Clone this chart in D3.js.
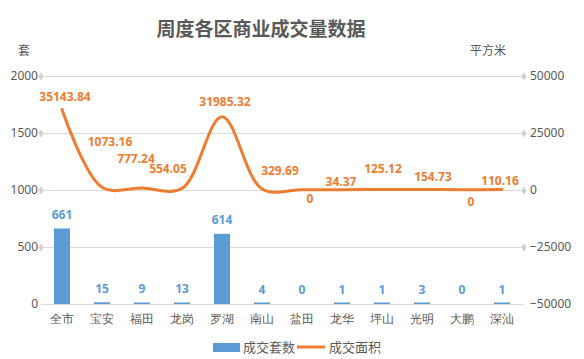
<!DOCTYPE html>
<html><head><meta charset="utf-8">
<script src="https://cdn.jsdelivr.net/npm/d3@7"></script>
<style>body{margin:0;background:#fff;} svg{display:block;font-family:"Noto Sans CJK SC","Noto Sans",sans-serif;}</style>
</head><body>
<svg id="chart" width="584" height="359"></svg>
<script>
const categories = ["全市","宝安","福田","龙岗","罗湖","南山","盐田","龙华","坪山","光明","大鹏","深汕"];
const units = [661,15,9,13,614,4,0,1,1,3,0,1];
const areas = [35143.84,1073.16,777.24,554.05,31985.32,329.69,0,34.37,125.12,154.73,0,110.16];
const leftTicks = [0,500,1000,1500,2000];
const rightTicks = [-50000,-25000,0,25000,50000];
// layout-only: label nudges (px) for the area labels, relative to each point
const areaLabelNudge = [[3,-12],[8,-45],[-6,-28],[-14,-19],[3,-14],[18,-17],[8,10],[-1,-7],[1,-20],[11,-12],[9,13],[-2,-8]];

const svg = d3.select("#chart");
const x0=42,x1=522,yTop=75.5,yBot=304;
const blue="#5B9BD5",orange="#ED7D31",txt="#595959",grid="#d9d9d9";

const x = d3.scaleBand().domain(categories).range([x0,x1]);
const yL = d3.scaleLinear().domain([0,2000]).range([yBot,yTop]);
const yR = d3.scaleLinear().domain([-50000,50000]).range([yBot,yTop]);

// title
svg.append("text").attr("x",261).attr("y",36).attr("text-anchor","middle")
  .attr("font-size",19).attr("font-weight","bold").attr("fill",txt).text("周度各区商业成交量数据");
svg.append("text").attr("x",24).attr("y",55).attr("text-anchor","middle").attr("font-size",12).attr("fill",txt).text("套");
svg.append("text").attr("x",488).attr("y",55).attr("text-anchor","middle").attr("font-size",12).attr("fill",txt).text("平方米");

// gridlines
leftTicks.forEach(t=>{
  const y=Math.round(yL(t))+0.5;
  svg.append("line").attr("x1",41).attr("x2",524).attr("y1",y).attr("y2",y).attr("stroke",grid).attr("stroke-width",1);
  if(t!==0){
    [41,524].forEach(cx=>svg.append("path").attr("d",d3.symbol(d3.symbolDiamond,22)()).attr("transform",`translate(${cx},${y})`).attr("fill","#d0d0d0"));
  }
});

// left axis
const gL = svg.append("g").attr("transform",`translate(38,0)`)
  .call(d3.axisLeft(yL).tickValues(leftTicks).tickSize(0).tickPadding(0).tickFormat(d3.format("d")));
gL.select(".domain").remove();
gL.selectAll("text").attr("font-size",12).attr("fill",txt).attr("font-family","'Noto Sans','Noto Sans CJK SC',sans-serif");

// right axis
const gR = svg.append("g").attr("transform",`translate(530,0)`)
  .call(d3.axisRight(yR).tickValues(rightTicks).tickSize(0).tickPadding(0).tickFormat(d3.format("d")));
gR.select(".domain").remove();
gR.selectAll("text").attr("font-size",12).attr("fill",txt).attr("font-family","'Noto Sans','Noto Sans CJK SC',sans-serif");

// x axis labels
const gX = svg.append("g").attr("transform",`translate(0,${yBot})`)
  .call(d3.axisBottom(x).tickSize(0).tickPadding(10));
gX.select(".domain").remove();
gX.selectAll("text").attr("font-size",12).attr("fill",txt);

// bars
const bw=16;
svg.selectAll("rect.bar").data(categories).enter().append("rect")
  .attr("x",d=>x(d)+x.bandwidth()/2-bw/2)
  .attr("y",(d,i)=>Math.min(yL(units[i]),yBot-(units[i]>0?1.5:0)))
  .attr("width",bw)
  .attr("height",(d,i)=>Math.max(yBot-yL(units[i]),units[i]>0?1.5:0))
  .attr("fill",blue);
svg.selectAll("text.blab").data(categories).enter().append("text")
  .attr("x",d=>x(d)+x.bandwidth()/2)
  .attr("y",(d,i)=>yL(units[i])-13)
  .attr("text-anchor","middle").attr("dominant-baseline","middle")
  .attr("font-size",12).attr("font-weight","bold").attr("fill",blue)
  .attr("font-family","'Noto Sans',sans-serif")
  .text((d,i)=>units[i]);

// line
const line = d3.line().x((d,i)=>x(categories[i])+x.bandwidth()/2).y(d=>yR(d)).curve(d3.curveCatmullRom.alpha(0.5));
svg.append("path").attr("d",line(areas)).attr("fill","none").attr("stroke",orange).attr("stroke-width",3).attr("stroke-linecap","round");
svg.selectAll("text.alab").data(categories).enter().append("text")
  .attr("x",(d,i)=>x(d)+x.bandwidth()/2+areaLabelNudge[i][0])
  .attr("y",(d,i)=>yR(areas[i])+areaLabelNudge[i][1])
  .attr("text-anchor","middle").attr("dominant-baseline","middle")
  .attr("font-size",12).attr("font-weight","bold").attr("fill",orange)
  .attr("font-family","'Noto Sans',sans-serif")
  .text((d,i)=>d3.format(".2f")(areas[i]).replace(/\.00$/,""));

// legend
svg.append("rect").attr("x",213).attr("y",343).attr("width",27).attr("height",9).attr("fill",blue);
svg.append("text").attr("x",243).attr("y",348).attr("dominant-baseline","middle").attr("font-size",13).attr("fill",txt).text("成交套数");
svg.append("line").attr("x1",297).attr("x2",325).attr("y1",347).attr("y2",347).attr("stroke",orange).attr("stroke-width",3);
svg.append("text").attr("x",329).attr("y",348).attr("dominant-baseline","middle").attr("font-size",13).attr("fill",txt).text("成交面积");
</script>
</body></html>
